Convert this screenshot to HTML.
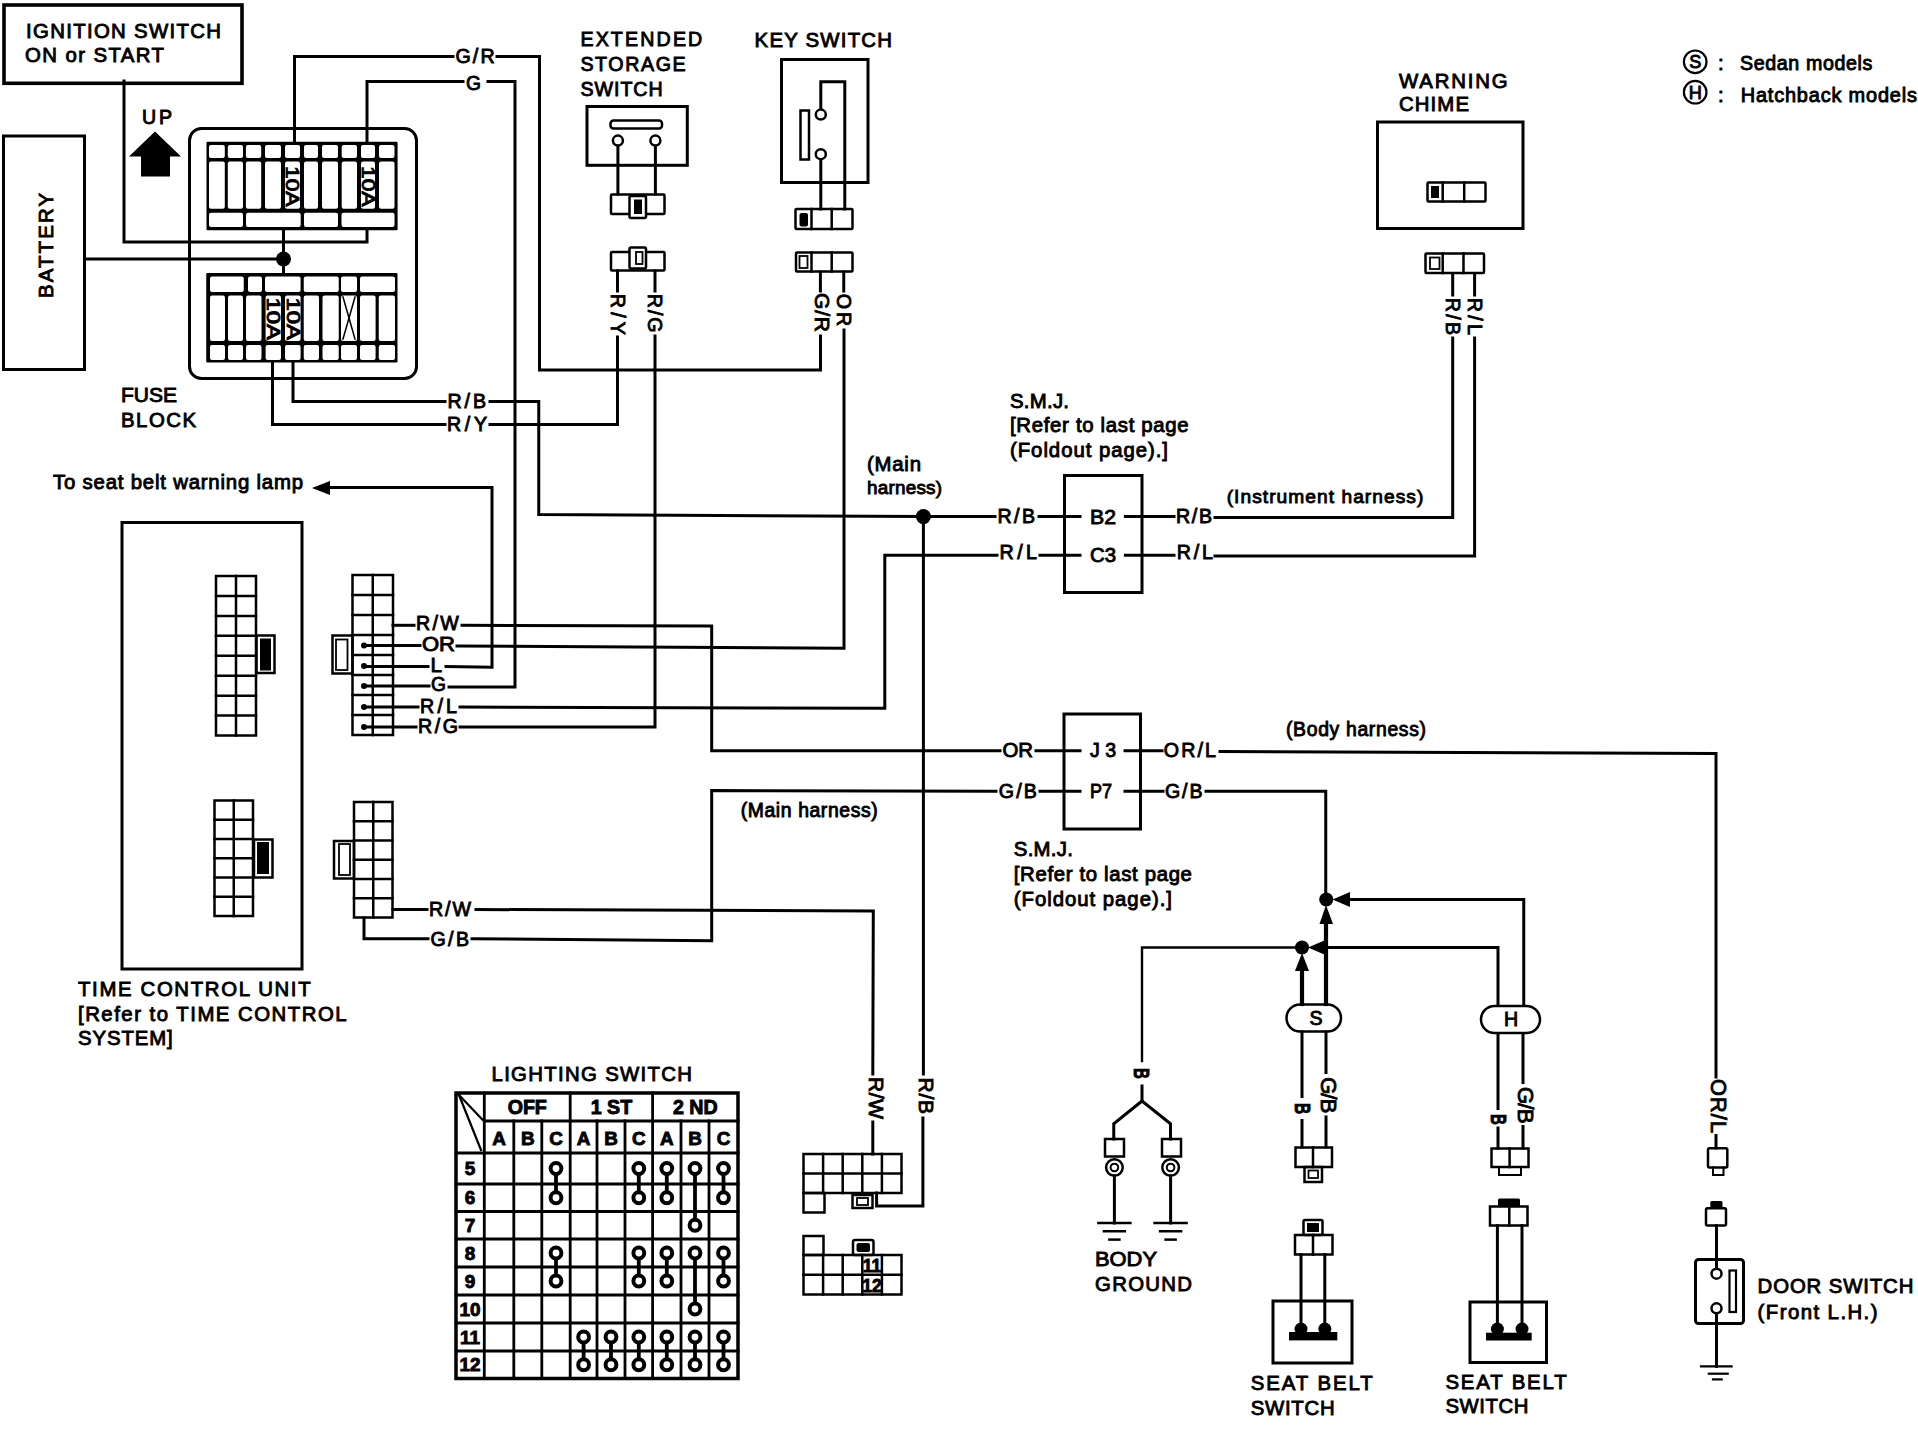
<!DOCTYPE html>
<html><head><meta charset="utf-8"><style>
html,body{margin:0;padding:0;background:#fff;}
svg{display:block;}
text{font-family:"Liberation Sans",sans-serif;fill:#000;}
</style></head><body>
<svg width="1918" height="1440" viewBox="0 0 1918 1440">
<rect x="0" y="0" width="1918" height="1440" fill="#fff"/>
<g fill="none" stroke="#000" stroke-linecap="square">
<rect x="4" y="5" width="238" height="78.3" rx="0" stroke-width="3.6" fill="none"/>
<text transform="translate(26,37.5) scale(1.0,1)" font-size="20.35" font-weight="normal" stroke="#000" stroke-width="0.9" text-anchor="start" textLength="195.0" lengthAdjust="spacing">IGNITION SWITCH</text>
<text transform="translate(25,62) scale(1.0,1)" font-size="20.35" font-weight="normal" stroke="#000" stroke-width="0.9" text-anchor="start" textLength="139.0" lengthAdjust="spacing">ON or START</text>
<rect x="3.5" y="136" width="81.0" height="233.5" rx="0" stroke-width="3" fill="none"/>
<text transform="translate(52.5,298) rotate(-90) scale(1.0,1)" font-size="20.35" font-weight="normal" stroke="#000" stroke-width="0.9" textLength="105.0" lengthAdjust="spacing">BATTERY</text>
<text transform="translate(142,124) scale(1.0,1)" font-size="19.62" font-weight="normal" stroke="#000" stroke-width="0.9" text-anchor="start" textLength="30.0" lengthAdjust="spacing">UP</text>
<polygon points="129,156.5 155,131.5 181,156.5 170,156.5 170,176.5 141,176.5 141,156.5" stroke="none" fill="#000"/>
<polyline points="124,81 124,242 367,242 367,229" stroke-width="3"/>
<line x1="85" y1="259" x2="283.5" y2="259" stroke-width="3"/>
<line x1="283.5" y1="229" x2="283.5" y2="274" stroke-width="3"/>
<circle cx="283.5" cy="259" r="7.5" stroke="none" fill="#000"/>
<rect x="189.5" y="128.5" width="227.0" height="250.0" rx="12" stroke-width="3" fill="none"/>
<rect x="206.5" y="141.8" width="191.10000000000002" height="88.39999999999998" rx="1" stroke="none" fill="#000"/>
<rect x="209" y="145" width="15.800000000000011" height="13" rx="2" stroke="none" fill="#fff"/>
<rect x="227.8" y="145" width="15.199999999999989" height="13" rx="2" stroke="none" fill="#fff"/>
<rect x="245.9" y="145" width="15.299999999999983" height="13" rx="2" stroke="none" fill="#fff"/>
<rect x="265" y="145" width="16" height="13" rx="2" stroke="none" fill="#fff"/>
<rect x="285" y="145" width="15" height="13" rx="2" stroke="none" fill="#fff"/>
<rect x="304" y="145" width="14" height="13" rx="2" stroke="none" fill="#fff"/>
<rect x="322" y="145" width="16" height="13" rx="2" stroke="none" fill="#fff"/>
<rect x="341.7" y="145" width="15.300000000000011" height="13" rx="2" stroke="none" fill="#fff"/>
<rect x="361" y="145" width="14" height="13" rx="2" stroke="none" fill="#fff"/>
<rect x="379" y="145" width="15.5" height="13" rx="2" stroke="none" fill="#fff"/>
<rect x="209" y="161.5" width="15.800000000000011" height="47.30000000000001" rx="2" stroke="none" fill="#fff"/>
<rect x="227.8" y="161.5" width="15.199999999999989" height="47.30000000000001" rx="2" stroke="none" fill="#fff"/>
<rect x="245.9" y="161.5" width="15.299999999999983" height="47.30000000000001" rx="2" stroke="none" fill="#fff"/>
<rect x="265" y="161.5" width="16" height="47.30000000000001" rx="2" stroke="none" fill="#fff"/>
<rect x="285" y="161.5" width="15" height="47.30000000000001" rx="2" stroke="none" fill="#fff"/>
<rect x="304" y="161.5" width="14" height="47.30000000000001" rx="2" stroke="none" fill="#fff"/>
<rect x="322" y="161.5" width="16" height="47.30000000000001" rx="2" stroke="none" fill="#fff"/>
<rect x="341.7" y="161.5" width="15.300000000000011" height="47.30000000000001" rx="2" stroke="none" fill="#fff"/>
<rect x="361" y="161.5" width="14" height="47.30000000000001" rx="2" stroke="none" fill="#fff"/>
<rect x="379" y="161.5" width="15.5" height="47.30000000000001" rx="2" stroke="none" fill="#fff"/>
<rect x="209" y="212.7" width="34" height="14.300000000000011" rx="2" stroke="none" fill="#fff"/>
<rect x="246" y="212.7" width="54.69999999999999" height="14.300000000000011" rx="2" stroke="none" fill="#fff"/>
<rect x="304" y="212.7" width="34" height="14.300000000000011" rx="2" stroke="none" fill="#fff"/>
<rect x="341.5" y="212.7" width="53.0" height="14.300000000000011" rx="2" stroke="none" fill="#fff"/>
<rect x="206.25" y="273" width="191.25" height="89.5" rx="1" stroke="none" fill="#000"/>
<rect x="210" y="276.5" width="33.75" height="15.5" rx="2" stroke="none" fill="#fff"/>
<rect x="248" y="276.5" width="14" height="15.5" rx="2" stroke="none" fill="#fff"/>
<rect x="265" y="276.5" width="35.60000000000002" height="15.5" rx="2" stroke="none" fill="#fff"/>
<rect x="303.75" y="276.5" width="35.0" height="15.5" rx="2" stroke="none" fill="#fff"/>
<rect x="341" y="276.5" width="16" height="15.5" rx="2" stroke="none" fill="#fff"/>
<rect x="360" y="276.5" width="35" height="15.5" rx="2" stroke="none" fill="#fff"/>
<rect x="210" y="295.6" width="15" height="45.39999999999998" rx="2" stroke="none" fill="#fff"/>
<rect x="228" y="295.6" width="15" height="45.39999999999998" rx="2" stroke="none" fill="#fff"/>
<rect x="246" y="295.6" width="15.5" height="45.39999999999998" rx="2" stroke="none" fill="#fff"/>
<rect x="265.6" y="295.6" width="15.399999999999977" height="45.39999999999998" rx="2" stroke="none" fill="#fff"/>
<rect x="285" y="295.6" width="15.600000000000023" height="45.39999999999998" rx="2" stroke="none" fill="#fff"/>
<rect x="303.75" y="295.6" width="15.25" height="45.39999999999998" rx="2" stroke="none" fill="#fff"/>
<rect x="322.5" y="295.6" width="16.25" height="45.39999999999998" rx="2" stroke="none" fill="#fff"/>
<rect x="341" y="295.6" width="16" height="45.39999999999998" rx="2" stroke="none" fill="#fff"/>
<rect x="360" y="295.6" width="15.600000000000023" height="45.39999999999998" rx="2" stroke="none" fill="#fff"/>
<rect x="378.75" y="295.6" width="16.25" height="45.39999999999998" rx="2" stroke="none" fill="#fff"/>
<rect x="210" y="345" width="15" height="15" rx="2" stroke="none" fill="#fff"/>
<rect x="228" y="345" width="15" height="15" rx="2" stroke="none" fill="#fff"/>
<rect x="246" y="345" width="15.5" height="15" rx="2" stroke="none" fill="#fff"/>
<rect x="265.6" y="345" width="15.399999999999977" height="15" rx="2" stroke="none" fill="#fff"/>
<rect x="285" y="345" width="15.600000000000023" height="15" rx="2" stroke="none" fill="#fff"/>
<rect x="303.75" y="345" width="15.25" height="15" rx="2" stroke="none" fill="#fff"/>
<rect x="322.5" y="345" width="16.25" height="15" rx="2" stroke="none" fill="#fff"/>
<rect x="341" y="345" width="16" height="15" rx="2" stroke="none" fill="#fff"/>
<rect x="360" y="345" width="15.600000000000023" height="15" rx="2" stroke="none" fill="#fff"/>
<rect x="378.75" y="345" width="16.25" height="15" rx="2" stroke="none" fill="#fff"/>
<line x1="343" y1="297" x2="355" y2="339" stroke-width="1.5"/>
<line x1="355" y1="297" x2="343" y2="339" stroke-width="1.5"/>
<text transform="translate(286.25,166) rotate(90) scale(1.0,1)" font-size="18.17" font-weight="normal" stroke="#000" stroke-width="0.9" textLength="40.5" lengthAdjust="spacingAndGlyphs">10A</text>
<text transform="translate(361.75,166) rotate(90) scale(1.0,1)" font-size="18.17" font-weight="normal" stroke="#000" stroke-width="0.9" textLength="40.5" lengthAdjust="spacingAndGlyphs">10A</text>
<text transform="translate(267.05,297.5) rotate(90) scale(1.0,1)" font-size="18.17" font-weight="normal" stroke="#000" stroke-width="0.9" textLength="42.5" lengthAdjust="spacingAndGlyphs">10A</text>
<text transform="translate(286.55,297.5) rotate(90) scale(1.0,1)" font-size="18.17" font-weight="normal" stroke="#000" stroke-width="0.9" textLength="42.5" lengthAdjust="spacingAndGlyphs">10A</text>
<text transform="translate(121,402) scale(1.0,1)" font-size="20.35" font-weight="normal" stroke="#000" stroke-width="0.9" text-anchor="start" textLength="56.0" lengthAdjust="spacingAndGlyphs">FUSE</text>
<text transform="translate(121,427) scale(1.0,1)" font-size="20.35" font-weight="normal" stroke="#000" stroke-width="0.9" text-anchor="start" textLength="75.0" lengthAdjust="spacing">BLOCK</text>
<polyline points="294.5,142 294.5,56.5 453,56.5" stroke-width="3"/>
<text transform="translate(455.4,62.5) scale(1.0,1)" font-size="19.62" font-weight="normal" stroke="#000" stroke-width="0.9" text-anchor="start" textLength="39.2" lengthAdjust="spacing">G/R</text>
<polyline points="497,56.5 539.5,56.5 539.5,370 820.5,370 820.5,336" stroke-width="3"/>
<polyline points="367,142 367,81.5 463,81.5" stroke-width="3"/>
<text transform="translate(466,89.6) scale(1.0,1)" font-size="19.62" font-weight="normal" stroke="#000" stroke-width="0.9" text-anchor="start" textLength="15.0" lengthAdjust="spacingAndGlyphs">G</text>
<polyline points="488,81.5 515,81.5 515,687 449,687" stroke-width="3"/>
<polyline points="293,362 293,401.5 445,401.5" stroke-width="3"/>
<text transform="translate(447.5,407.5) scale(1.0,1)" font-size="19.62" font-weight="normal" stroke="#000" stroke-width="0.9" text-anchor="start" textLength="38.5" lengthAdjust="spacing">R/B</text>
<polyline points="490,401.5 538.75,401.5 538.75,514.5 923.4,516.6 995,516.6" stroke-width="3"/>
<polyline points="272.5,362 272.5,424.5 445,424.5" stroke-width="3"/>
<text transform="translate(447,430.75) scale(1.0,1)" font-size="19.62" font-weight="normal" stroke="#000" stroke-width="0.9" text-anchor="start" textLength="40.0" lengthAdjust="spacing">R/Y</text>
<polyline points="490,424.5 617.5,424.5 617.5,337" stroke-width="3"/>
<text transform="translate(580.4,46.25) scale(1.0,1)" font-size="19.62" font-weight="normal" stroke="#000" stroke-width="0.9" text-anchor="start" textLength="121.9" lengthAdjust="spacing">EXTENDED</text>
<text transform="translate(580.4,71.25) scale(1.0,1)" font-size="19.62" font-weight="normal" stroke="#000" stroke-width="0.9" text-anchor="start" textLength="105.2" lengthAdjust="spacing">STORAGE</text>
<text transform="translate(580.4,96.25) scale(1.0,1)" font-size="19.62" font-weight="normal" stroke="#000" stroke-width="0.9" text-anchor="start" textLength="82.3" lengthAdjust="spacing">SWITCH</text>
<rect x="587" y="106.5" width="100.29999999999995" height="58.80000000000001" rx="0" stroke-width="3" fill="none"/>
<rect x="610.5" y="120.5" width="51.5" height="8.0" rx="3" stroke-width="2.5" fill="none"/>
<line x1="617.9" y1="146" x2="617.9" y2="194" stroke-width="3"/>
<line x1="655.4" y1="146" x2="655.4" y2="194" stroke-width="3"/>
<circle cx="617.9" cy="140.6" r="5" stroke-width="2.5" fill="#fff"/>
<circle cx="655.4" cy="140.6" r="5" stroke-width="2.5" fill="#fff"/>
<rect x="611" y="194.5" width="53.5" height="19.5" rx="1" stroke-width="2.5" fill="none"/>
<rect x="629.5" y="196" width="16.5" height="22" rx="1.5" stroke-width="2.5" fill="#fff"/>
<rect x="634" y="199.5" width="8" height="14.5" rx="0" stroke="none" fill="#000"/>
<rect x="611" y="252" width="53.5" height="18.5" rx="1" stroke-width="2.5" fill="none"/>
<rect x="629.5" y="247.5" width="16.5" height="21.0" rx="1.5" stroke-width="2.5" fill="#fff"/>
<rect x="636" y="252" width="6.5" height="12" rx="0" stroke-width="1.8" fill="none"/>
<line x1="617.5" y1="271" x2="617.5" y2="291" stroke-width="3"/>
<line x1="655" y1="271" x2="655" y2="291" stroke-width="3"/>
<text transform="translate(610.75,293.75) rotate(90) scale(1.0,1)" font-size="19.62" font-weight="normal" stroke="#000" stroke-width="0.9" textLength="41.2" lengthAdjust="spacing">R/Y</text>
<text transform="translate(648.25,293.75) rotate(90) scale(1.0,1)" font-size="19.62" font-weight="normal" stroke="#000" stroke-width="0.9" textLength="38.8" lengthAdjust="spacing">R/G</text>
<polyline points="655,336 655,727 460,727" stroke-width="3"/>
<text transform="translate(754.6,46.9) scale(1.0,1)" font-size="20.35" font-weight="normal" stroke="#000" stroke-width="0.9" text-anchor="start" textLength="137.4" lengthAdjust="spacing">KEY SWITCH</text>
<rect x="781.5" y="59.5" width="86.5" height="123.0" rx="0" stroke-width="3" fill="none"/>
<rect x="800.5" y="110.5" width="8.5" height="49.0" rx="0" stroke-width="2.5" fill="none"/>
<polyline points="820.8,109.5 820.8,81.7 844.8,81.7 844.8,209" stroke-width="3"/>
<line x1="820.8" y1="159" x2="820.8" y2="209" stroke-width="3"/>
<circle cx="820.8" cy="114.6" r="5" stroke-width="2.5" fill="#fff"/>
<circle cx="820.8" cy="154.2" r="5" stroke-width="2.5" fill="#fff"/>
<rect x="795.5" y="209" width="57.0" height="20" rx="1" stroke-width="2.5" fill="none"/>
<line x1="811.5" y1="209" x2="811.5" y2="229" stroke-width="2.5"/>
<line x1="831.7" y1="209" x2="831.7" y2="229" stroke-width="2.5"/>
<rect x="799.5" y="213" width="8.5" height="13.5" rx="2" stroke="none" fill="#000"/>
<rect x="796" y="252.5" width="56.5" height="19.0" rx="1" stroke-width="2.5" fill="none"/>
<line x1="811.5" y1="252.5" x2="811.5" y2="271.5" stroke-width="2.5"/>
<line x1="831.7" y1="252.5" x2="831.7" y2="271.5" stroke-width="2.5"/>
<rect x="799.5" y="256" width="8.0" height="12" rx="0" stroke-width="1.8" fill="none"/>
<line x1="820.4" y1="272" x2="820.4" y2="291" stroke-width="3"/>
<line x1="843.75" y1="272" x2="843.75" y2="291" stroke-width="3"/>
<text transform="translate(814.75,293) rotate(90) scale(1.0,1)" font-size="21.08" font-weight="normal" stroke="#000" stroke-width="0.9" textLength="39.0" lengthAdjust="spacing">G/R</text>
<text transform="translate(837.0,293.75) rotate(90) scale(1.0,1)" font-size="19.62" font-weight="normal" stroke="#000" stroke-width="0.9" textLength="32.5" lengthAdjust="spacing">OR</text>
<polyline points="844,330 844,648.3 457,646" stroke-width="3"/>
<text transform="translate(1399,88) scale(1.0,1)" font-size="20.35" font-weight="normal" stroke="#000" stroke-width="0.9" text-anchor="start" textLength="108.6" lengthAdjust="spacing">WARNING</text>
<text transform="translate(1399,111.3) scale(1.0,1)" font-size="20.35" font-weight="normal" stroke="#000" stroke-width="0.9" text-anchor="start" textLength="70.0" lengthAdjust="spacing">CHIME</text>
<rect x="1377.5" y="122" width="145.5" height="106.5" rx="0" stroke-width="3" fill="none"/>
<rect x="1427.5" y="182.5" width="58.0" height="19.0" rx="1" stroke-width="2.5" fill="none"/>
<line x1="1442.7" y1="182.5" x2="1442.7" y2="201.5" stroke-width="2.5"/>
<line x1="1464.2" y1="182.5" x2="1464.2" y2="201.5" stroke-width="2.5"/>
<rect x="1431" y="186" width="8" height="12" rx="0" stroke="none" fill="#000"/>
<rect x="1425.5" y="253.5" width="58.5" height="19.5" rx="1" stroke-width="2.5" fill="none"/>
<line x1="1442.7" y1="253.5" x2="1442.7" y2="273" stroke-width="2.5"/>
<line x1="1463.5" y1="253.5" x2="1463.5" y2="273" stroke-width="2.5"/>
<rect x="1430" y="257.5" width="9.5" height="11.5" rx="0" stroke-width="1.8" fill="none"/>
<line x1="1452.7" y1="274" x2="1452.7" y2="295" stroke-width="3"/>
<line x1="1474.6" y1="274" x2="1474.6" y2="295" stroke-width="3"/>
<text transform="translate(1445.95,297.7) rotate(90) scale(1.0,1)" font-size="19.62" font-weight="normal" stroke="#000" stroke-width="0.9" textLength="37.5" lengthAdjust="spacing">R/B</text>
<text transform="translate(1467.85,297.7) rotate(90) scale(1.0,1)" font-size="19.62" font-weight="normal" stroke="#000" stroke-width="0.9" textLength="37.3" lengthAdjust="spacing">R/L</text>
<polyline points="1452.7,338 1452.7,517.5 1215,517.5" stroke-width="3"/>
<polyline points="1474.6,338 1474.6,556 1215,556" stroke-width="3"/>
<text transform="translate(1226.7,502.5) scale(1.0,1)" font-size="19.19" font-weight="normal" stroke="#000" stroke-width="0.9" text-anchor="start" textLength="196.6" lengthAdjust="spacing">(Instrument harness)</text>
<circle cx="1695.2" cy="61.8" r="11.3" stroke-width="2.2" fill="none"/>
<text transform="translate(1695.2,68) scale(1.0,1)" font-size="18.17" font-weight="normal" stroke="#000" stroke-width="0.9" text-anchor="middle">S</text>
<circle cx="1695.2" cy="92.2" r="11.3" stroke-width="2.2" fill="none"/>
<text transform="translate(1695.2,98.5) scale(1.0,1)" font-size="18.17" font-weight="normal" stroke="#000" stroke-width="0.9" text-anchor="middle">H</text>
<text transform="translate(1718,69.9) scale(1.0,1)" font-size="20.35" font-weight="normal" stroke="#000" stroke-width="0.9" text-anchor="start">:</text>
<text transform="translate(1718,102.1) scale(1.0,1)" font-size="20.35" font-weight="normal" stroke="#000" stroke-width="0.9" text-anchor="start">:</text>
<text transform="translate(1740,69.9) scale(1.0,1)" font-size="19.62" font-weight="normal" stroke="#000" stroke-width="0.9" text-anchor="start" textLength="132.3" lengthAdjust="spacing">Sedan models</text>
<text transform="translate(1740.7,102.1) scale(1.0,1)" font-size="19.91" font-weight="normal" stroke="#000" stroke-width="0.9" text-anchor="start" textLength="176.3" lengthAdjust="spacing">Hatchback models</text>
<text transform="translate(1010,408) scale(1.0,1)" font-size="20.35" font-weight="normal" stroke="#000" stroke-width="0.9" text-anchor="start" textLength="59.0" lengthAdjust="spacing">S.M.J.</text>
<text transform="translate(1010,432) scale(1.0,1)" font-size="20.35" font-weight="normal" stroke="#000" stroke-width="0.9" text-anchor="start" textLength="178.7" lengthAdjust="spacing">[Refer to last page</text>
<text transform="translate(1010,457) scale(1.0,1)" font-size="20.35" font-weight="normal" stroke="#000" stroke-width="0.9" text-anchor="start" textLength="158.0" lengthAdjust="spacing">(Foldout page).]</text>
<text transform="translate(867,470.7) scale(1.0,1)" font-size="20.35" font-weight="normal" stroke="#000" stroke-width="0.9" text-anchor="start" textLength="54.0" lengthAdjust="spacing">(Main</text>
<text transform="translate(867,494.3) scale(1.0,1)" font-size="18.9" font-weight="normal" stroke="#000" stroke-width="0.9" text-anchor="start" textLength="75.0" lengthAdjust="spacing">harness)</text>
<rect x="1064.5" y="475.5" width="77.5" height="117.0" rx="0" stroke-width="3" fill="none"/>
<circle cx="923.4" cy="516.6" r="7.5" stroke="none" fill="#000"/>
<text transform="translate(997.5,522.7) scale(1.0,1)" font-size="19.62" font-weight="normal" stroke="#000" stroke-width="0.9" text-anchor="start" textLength="37.5" lengthAdjust="spacing">R/B</text>
<line x1="1039" y1="516.6" x2="1080" y2="516.6" stroke-width="3"/>
<text transform="translate(1090,524.2) scale(1.0,1)" font-size="19.62" font-weight="normal" stroke="#000" stroke-width="0.9" text-anchor="start" textLength="26.0" lengthAdjust="spacingAndGlyphs">B2</text>
<line x1="1125.4" y1="516.6" x2="1174" y2="516.6" stroke-width="3"/>
<text transform="translate(1176,522.7) scale(1.0,1)" font-size="19.62" font-weight="normal" stroke="#000" stroke-width="0.9" text-anchor="start" textLength="36.0" lengthAdjust="spacing">R/B</text>
<text transform="translate(999.5,559) scale(1.0,1)" font-size="19.62" font-weight="normal" stroke="#000" stroke-width="0.9" text-anchor="start" textLength="37.5" lengthAdjust="spacing">R/L</text>
<line x1="1040" y1="555.2" x2="1080" y2="555.2" stroke-width="3"/>
<text transform="translate(1090,562.3) scale(1.0,1)" font-size="19.62" font-weight="normal" stroke="#000" stroke-width="0.9" text-anchor="start" textLength="26.0" lengthAdjust="spacingAndGlyphs">C3</text>
<line x1="1125.4" y1="555.2" x2="1174" y2="555.2" stroke-width="3"/>
<text transform="translate(1176.8,559) scale(1.0,1)" font-size="19.62" font-weight="normal" stroke="#000" stroke-width="0.9" text-anchor="start" textLength="36.2" lengthAdjust="spacing">R/L</text>
<polyline points="460,707 884.8,708.3 884.8,555.2 997,555.2" stroke-width="3"/>
<polyline points="923.4,516.6 923.4,1074" stroke-width="3"/>
<text transform="translate(918.75,1077.5) rotate(90) scale(1.0,1)" font-size="21.08" font-weight="normal" stroke="#000" stroke-width="0.9" textLength="36.5" lengthAdjust="spacing">R/B</text>
<polyline points="922.9,1118 922.9,1206 876.6,1206 876.6,1193" stroke-width="3"/>
<rect x="122" y="522.5" width="180" height="446.5" rx="0" stroke-width="3" fill="none"/>
<rect x="216" y="576" width="40" height="159.5" rx="0" stroke-width="2.5" fill="none"/>
<line x1="236.0" y1="576" x2="236.0" y2="735.5" stroke-width="2.5"/>
<line x1="216" y1="595.9375" x2="256" y2="595.9375" stroke-width="2.5"/>
<line x1="216" y1="615.875" x2="256" y2="615.875" stroke-width="2.5"/>
<line x1="216" y1="635.8125" x2="256" y2="635.8125" stroke-width="2.5"/>
<line x1="216" y1="655.75" x2="256" y2="655.75" stroke-width="2.5"/>
<line x1="216" y1="675.6875" x2="256" y2="675.6875" stroke-width="2.5"/>
<line x1="216" y1="695.625" x2="256" y2="695.625" stroke-width="2.5"/>
<line x1="216" y1="715.5625" x2="256" y2="715.5625" stroke-width="2.5"/>
<rect x="256.5" y="635.5" width="18.0" height="37.5" rx="0" stroke-width="2.5" fill="none"/>
<rect x="260" y="638.5" width="11" height="32.0" rx="0" stroke="none" fill="#000"/>
<rect x="352.5" y="575" width="40.5" height="160" rx="0" stroke-width="2.5" fill="none"/>
<line x1="372.75" y1="575" x2="372.75" y2="735" stroke-width="2.5"/>
<line x1="352.5" y1="595.0" x2="393" y2="595.0" stroke-width="2.5"/>
<line x1="352.5" y1="615.0" x2="393" y2="615.0" stroke-width="2.5"/>
<line x1="352.5" y1="635.0" x2="393" y2="635.0" stroke-width="2.5"/>
<line x1="352.5" y1="655.0" x2="393" y2="655.0" stroke-width="2.5"/>
<line x1="352.5" y1="675.0" x2="393" y2="675.0" stroke-width="2.5"/>
<line x1="352.5" y1="695.0" x2="393" y2="695.0" stroke-width="2.5"/>
<line x1="352.5" y1="715.0" x2="393" y2="715.0" stroke-width="2.5"/>
<rect x="332.5" y="635.5" width="20.0" height="38.0" rx="0" stroke-width="2.5" fill="none"/>
<rect x="336" y="639.5" width="11.5" height="30.5" rx="0" stroke-width="1.8" fill="none"/>
<circle cx="364" cy="645.5" r="3" stroke="none" fill="#000"/>
<circle cx="364" cy="666" r="3" stroke="none" fill="#000"/>
<circle cx="364" cy="686" r="3" stroke="none" fill="#000"/>
<circle cx="364" cy="707" r="3" stroke="none" fill="#000"/>
<circle cx="364" cy="727" r="3" stroke="none" fill="#000"/>
<rect x="214.5" y="800.5" width="38.5" height="115.5" rx="0" stroke-width="2.5" fill="none"/>
<line x1="233.75" y1="800.5" x2="233.75" y2="916" stroke-width="2.5"/>
<line x1="214.5" y1="819.75" x2="253" y2="819.75" stroke-width="2.5"/>
<line x1="214.5" y1="839.0" x2="253" y2="839.0" stroke-width="2.5"/>
<line x1="214.5" y1="858.25" x2="253" y2="858.25" stroke-width="2.5"/>
<line x1="214.5" y1="877.5" x2="253" y2="877.5" stroke-width="2.5"/>
<line x1="214.5" y1="896.75" x2="253" y2="896.75" stroke-width="2.5"/>
<rect x="254" y="839.5" width="18.5" height="38.0" rx="0" stroke-width="2.5" fill="none"/>
<rect x="257" y="842" width="12" height="32" rx="0" stroke="none" fill="#000"/>
<rect x="354" y="802" width="38.5" height="115.5" rx="0" stroke-width="2.5" fill="none"/>
<line x1="373.25" y1="802" x2="373.25" y2="917.5" stroke-width="2.5"/>
<line x1="354" y1="821.25" x2="392.5" y2="821.25" stroke-width="2.5"/>
<line x1="354" y1="840.5" x2="392.5" y2="840.5" stroke-width="2.5"/>
<line x1="354" y1="859.75" x2="392.5" y2="859.75" stroke-width="2.5"/>
<line x1="354" y1="879.0" x2="392.5" y2="879.0" stroke-width="2.5"/>
<line x1="354" y1="898.25" x2="392.5" y2="898.25" stroke-width="2.5"/>
<rect x="334" y="841" width="20" height="37.5" rx="0" stroke-width="2.5" fill="none"/>
<rect x="339" y="844" width="11" height="31" rx="0" stroke-width="1.8" fill="none"/>
<text transform="translate(78,995.8) scale(1.0,1)" font-size="20.35" font-weight="normal" stroke="#000" stroke-width="0.9" text-anchor="start" textLength="232.6" lengthAdjust="spacing">TIME CONTROL UNIT</text>
<text transform="translate(78,1020.5) scale(1.0,1)" font-size="20.35" font-weight="normal" stroke="#000" stroke-width="0.9" text-anchor="start" textLength="268.6" lengthAdjust="spacing">[Refer to TIME CONTROL</text>
<text transform="translate(78,1044.5) scale(1.0,1)" font-size="20.35" font-weight="normal" stroke="#000" stroke-width="0.9" text-anchor="start" textLength="94.7" lengthAdjust="spacing">SYSTEM]</text>
<line x1="393" y1="625.3" x2="414" y2="625.3" stroke-width="3"/>
<text transform="translate(416,630) scale(1.0,1)" font-size="19.62" font-weight="normal" stroke="#000" stroke-width="0.9" text-anchor="start" textLength="42.7" lengthAdjust="spacing">R/W</text>
<polyline points="462,625.3 711.7,626 711.7,750.75 1000,750.75" stroke-width="3"/>
<line x1="364" y1="645.5" x2="420" y2="645.5" stroke-width="3"/>
<text transform="translate(422,650.7) scale(1.0,1)" font-size="19.62" font-weight="normal" stroke="#000" stroke-width="0.9" text-anchor="start" textLength="33.0" lengthAdjust="spacingAndGlyphs">OR</text>
<line x1="364" y1="666.5" x2="428" y2="666.5" stroke-width="3"/>
<text transform="translate(430.5,671.5) scale(1.0,1)" font-size="19.62" font-weight="normal" stroke="#000" stroke-width="0.9" text-anchor="start" textLength="11.5" lengthAdjust="spacingAndGlyphs">L</text>
<polyline points="446,666.5 492,667.3 492,487.5 330,487.5" stroke-width="3"/>
<polygon points="312,488 330,481 330,495" stroke="none" fill="#000"/>
<text transform="translate(53,489) scale(1.0,1)" font-size="20.35" font-weight="normal" stroke="#000" stroke-width="0.9" text-anchor="start" textLength="250.0" lengthAdjust="spacing">To seat belt warning lamp</text>
<line x1="364" y1="686" x2="429" y2="686" stroke-width="3"/>
<text transform="translate(431,691) scale(1.0,1)" font-size="19.62" font-weight="normal" stroke="#000" stroke-width="0.9" text-anchor="start" textLength="15.0" lengthAdjust="spacingAndGlyphs">G</text>
<line x1="364" y1="707" x2="418" y2="707" stroke-width="3"/>
<text transform="translate(420,713) scale(1.0,1)" font-size="19.62" font-weight="normal" stroke="#000" stroke-width="0.9" text-anchor="start" textLength="37.0" lengthAdjust="spacing">R/L</text>
<line x1="364" y1="727" x2="416" y2="727" stroke-width="3"/>
<text transform="translate(418,733) scale(1.0,1)" font-size="19.62" font-weight="normal" stroke="#000" stroke-width="0.9" text-anchor="start" textLength="40.0" lengthAdjust="spacing">R/G</text>
<line x1="393" y1="909.5" x2="427" y2="909.5" stroke-width="3"/>
<text transform="translate(429,915.5) scale(1.0,1)" font-size="19.62" font-weight="normal" stroke="#000" stroke-width="0.9" text-anchor="start" textLength="42.0" lengthAdjust="spacing">R/W</text>
<polyline points="476,909.5 873.3,911 872.8,1074" stroke-width="3"/>
<polyline points="364,918 364,938.7 428,938.7" stroke-width="3"/>
<text transform="translate(430.5,945.5) scale(1.0,1)" font-size="19.62" font-weight="normal" stroke="#000" stroke-width="0.9" text-anchor="start" textLength="38.5" lengthAdjust="spacing">G/B</text>
<polyline points="472,938.7 711.7,940.7 711.7,790.5 996,791.25" stroke-width="3"/>
<text transform="translate(740.7,816.7) scale(1.0,1)" font-size="19.33" font-weight="normal" stroke="#000" stroke-width="0.9" text-anchor="start" textLength="137.0" lengthAdjust="spacing">(Main harness)</text>
<rect x="1064" y="714" width="76.5" height="115" rx="0" stroke-width="3" fill="none"/>
<text transform="translate(1002.5,757) scale(1.0,1)" font-size="19.62" font-weight="normal" stroke="#000" stroke-width="0.9" text-anchor="start" textLength="30.5" lengthAdjust="spacingAndGlyphs">OR</text>
<line x1="1036" y1="750.75" x2="1080" y2="750.75" stroke-width="3"/>
<text transform="translate(1090,757) scale(1.0,1)" font-size="19.62" font-weight="normal" stroke="#000" stroke-width="0.9" text-anchor="start" textLength="26.0" lengthAdjust="spacingAndGlyphs">J 3</text>
<line x1="1125" y1="750.75" x2="1162" y2="750.75" stroke-width="3"/>
<text transform="translate(1163.75,757) scale(1.0,1)" font-size="19.62" font-weight="normal" stroke="#000" stroke-width="0.9" text-anchor="start" textLength="52.2" lengthAdjust="spacing">OR/L</text>
<polyline points="1220,751.5 1716,753.5 1716,1077" stroke-width="3"/>
<text transform="translate(1710.5,1079) rotate(90) scale(1.0,1)" font-size="21.8" font-weight="normal" stroke="#000" stroke-width="0.9" textLength="54.0" lengthAdjust="spacing">OR/L</text>
<line x1="1716" y1="1135.5" x2="1716" y2="1148" stroke-width="3"/>
<text transform="translate(998.75,797.5) scale(1.0,1)" font-size="19.62" font-weight="normal" stroke="#000" stroke-width="0.9" text-anchor="start" textLength="38.2" lengthAdjust="spacing">G/B</text>
<line x1="1040" y1="791.25" x2="1080" y2="791.25" stroke-width="3"/>
<text transform="translate(1090,797.5) scale(1.0,1)" font-size="19.62" font-weight="normal" stroke="#000" stroke-width="0.9" text-anchor="start" textLength="22.0" lengthAdjust="spacingAndGlyphs">P7</text>
<line x1="1125" y1="791.25" x2="1163" y2="791.25" stroke-width="3"/>
<text transform="translate(1165,797.5) scale(1.0,1)" font-size="19.62" font-weight="normal" stroke="#000" stroke-width="0.9" text-anchor="start" textLength="37.5" lengthAdjust="spacing">G/B</text>
<polyline points="1206,791.25 1325.75,791.25 1325.75,899.5" stroke-width="3"/>
<text transform="translate(1286,736) scale(1.0,1)" font-size="19.33" font-weight="normal" stroke="#000" stroke-width="0.9" text-anchor="start" textLength="140.0" lengthAdjust="spacing">(Body harness)</text>
<text transform="translate(1013.75,856) scale(1.0,1)" font-size="20.35" font-weight="normal" stroke="#000" stroke-width="0.9" text-anchor="start" textLength="59.2" lengthAdjust="spacing">S.M.J.</text>
<text transform="translate(1013.75,881) scale(1.0,1)" font-size="20.35" font-weight="normal" stroke="#000" stroke-width="0.9" text-anchor="start" textLength="178.2" lengthAdjust="spacing">[Refer to last page</text>
<text transform="translate(1013.75,905.5) scale(1.0,1)" font-size="20.35" font-weight="normal" stroke="#000" stroke-width="0.9" text-anchor="start" textLength="158.2" lengthAdjust="spacing">(Foldout page).]</text>
<circle cx="1326.25" cy="899.5" r="7" stroke="none" fill="#000"/>
<polygon points="1332.5,899.5 1350,892 1350,907" stroke="none" fill="#000"/>
<polyline points="1350,899.5 1523.75,899.5 1523.75,1005" stroke-width="3"/>
<polygon points="1326,905 1319.5,924 1333,924" stroke="none" fill="#000"/>
<line x1="1326" y1="923" x2="1326" y2="1004" stroke-width="4.2"/>
<circle cx="1302" cy="947.5" r="7" stroke="none" fill="#000"/>
<polygon points="1308,947.5 1325.5,940 1325.5,955" stroke="none" fill="#000"/>
<polyline points="1142,1061 1142,947.5 1302,947.5" stroke-width="2.4"/>
<polyline points="1325,947.5 1498,947.5 1498,1005" stroke-width="3"/>
<polygon points="1302,953 1295,971 1309,971" stroke="none" fill="#000"/>
<line x1="1302" y1="970" x2="1302" y2="1004" stroke-width="4.2"/>
<rect x="1286.5" y="1004.5" width="54.5" height="27.0" rx="13.5" stroke-width="2.5" fill="none"/>
<text transform="translate(1316,1024.5) scale(1.0,1)" font-size="19.62" font-weight="normal" stroke="#000" stroke-width="0.9" text-anchor="middle">S</text>
<rect x="1481" y="1006" width="59" height="27" rx="13.5" stroke-width="2.5" fill="none"/>
<text transform="translate(1511,1026) scale(1.0,1)" font-size="19.62" font-weight="normal" stroke="#000" stroke-width="0.9" text-anchor="middle">H</text>
<text transform="translate(1134.25,1068) rotate(90) scale(1.0,1)" font-size="22.53" font-weight="bold" stroke="#000" stroke-width="0.9" textLength="10.8" lengthAdjust="spacingAndGlyphs">B</text>
<polyline points="1142,1086 1142,1101" stroke-width="3"/>
<polyline points="1113.75,1139 1113.75,1123.75 1142,1101 1170.5,1123.75 1170.5,1139" stroke-width="3"/>
<rect x="1105" y="1139" width="19" height="17.5" rx="0" stroke-width="2.5" fill="none"/>
<rect x="1162" y="1139" width="19" height="17.5" rx="0" stroke-width="2.5" fill="none"/>
<circle cx="1114.4" cy="1167.5" r="8.3" stroke-width="2.5" fill="#fff"/>
<circle cx="1114.4" cy="1167.5" r="3.8" stroke-width="2" fill="#fff"/>
<line x1="1114.4" y1="1176" x2="1114.4" y2="1223" stroke-width="3"/>
<line x1="1098.4" y1="1223" x2="1130.4" y2="1223" stroke-width="2.5"/>
<line x1="1103.9" y1="1231.25" x2="1124.9" y2="1231.25" stroke-width="2.5"/>
<line x1="1109.4" y1="1239.6" x2="1119.4" y2="1239.6" stroke-width="2.5"/>
<circle cx="1170.6" cy="1167.5" r="8.3" stroke-width="2.5" fill="#fff"/>
<circle cx="1170.6" cy="1167.5" r="3.8" stroke-width="2" fill="#fff"/>
<line x1="1170.6" y1="1176" x2="1170.6" y2="1223" stroke-width="3"/>
<line x1="1154.6" y1="1223" x2="1186.6" y2="1223" stroke-width="2.5"/>
<line x1="1160.1" y1="1231.25" x2="1181.1" y2="1231.25" stroke-width="2.5"/>
<line x1="1165.6" y1="1239.6" x2="1175.6" y2="1239.6" stroke-width="2.5"/>
<text transform="translate(1095,1266) scale(1.0,1)" font-size="20.35" font-weight="normal" stroke="#000" stroke-width="0.9" text-anchor="start" textLength="62.0" lengthAdjust="spacingAndGlyphs">BODY</text>
<text transform="translate(1095,1291) scale(1.0,1)" font-size="20.35" font-weight="normal" stroke="#000" stroke-width="0.9" text-anchor="start" textLength="97.0" lengthAdjust="spacing">GROUND</text>
<line x1="1302" y1="1032" x2="1302" y2="1096.5" stroke-width="3"/>
<text transform="translate(1295.25,1103) rotate(90) scale(1.0,1)" font-size="22.53" font-weight="bold" stroke="#000" stroke-width="0.9" textLength="11.2" lengthAdjust="spacingAndGlyphs">B</text>
<line x1="1302" y1="1120.5" x2="1302" y2="1147" stroke-width="3"/>
<line x1="1326" y1="1032" x2="1326" y2="1072.5" stroke-width="3"/>
<text transform="translate(1321.25,1077) rotate(90) scale(1.0,1)" font-size="22.53" font-weight="normal" stroke="#000" stroke-width="0.9" textLength="36.5" lengthAdjust="spacing">G/B</text>
<line x1="1326" y1="1117" x2="1326" y2="1147" stroke-width="3"/>
<rect x="1295.5" y="1147.5" width="36.5" height="19.5" rx="0" stroke-width="2.5" fill="none"/>
<line x1="1313" y1="1147.5" x2="1313" y2="1167" stroke-width="2.5"/>
<rect x="1304.5" y="1167" width="17.5" height="15" rx="0" stroke-width="2.5" fill="none"/>
<rect x="1308.5" y="1170.5" width="9.5" height="7.5" rx="0" stroke-width="1.8" fill="none"/>
<line x1="1498" y1="1034" x2="1498" y2="1108.5" stroke-width="3"/>
<text transform="translate(1490.95,1114) rotate(90) scale(1.0,1)" font-size="22.53" font-weight="bold" stroke="#000" stroke-width="0.9" textLength="10.8" lengthAdjust="spacingAndGlyphs">B</text>
<line x1="1498" y1="1128" x2="1498" y2="1148" stroke-width="3"/>
<line x1="1523" y1="1034" x2="1523" y2="1082.5" stroke-width="3"/>
<text transform="translate(1517.65,1086.8) rotate(90) scale(1.0,1)" font-size="22.53" font-weight="normal" stroke="#000" stroke-width="0.9" textLength="36.9" lengthAdjust="spacing">G/B</text>
<line x1="1523" y1="1126.5" x2="1523" y2="1148" stroke-width="3"/>
<rect x="1491.5" y="1148.5" width="37.0" height="18.5" rx="0" stroke-width="2.5" fill="none"/>
<line x1="1509.6" y1="1148.5" x2="1509.6" y2="1167" stroke-width="2.5"/>
<polyline points="1499,1167 1499,1175 1521,1175 1521,1167" stroke-width="2"/>
<rect x="1303.5" y="1220" width="19.0" height="15" rx="1.5" stroke-width="2.5" fill="none"/>
<rect x="1307" y="1223" width="12" height="9" rx="0" stroke="none" fill="#000"/>
<rect x="1295" y="1235" width="37.5" height="19.5" rx="0" stroke-width="2.5" fill="none"/>
<line x1="1313" y1="1235" x2="1313" y2="1254.5" stroke-width="2.5"/>
<line x1="1301" y1="1254.6" x2="1301" y2="1327.5" stroke-width="3"/>
<line x1="1324.8" y1="1254.6" x2="1324.8" y2="1327.5" stroke-width="3"/>
<rect x="1273" y="1301" width="79" height="62" rx="0" stroke-width="3" fill="none"/>
<circle cx="1301" cy="1329" r="6.5" stroke="none" fill="#000"/>
<circle cx="1324.8" cy="1329" r="6.5" stroke="none" fill="#000"/>
<rect x="1289" y="1332" width="48.299999999999955" height="8.400000000000091" rx="0" stroke="none" fill="#000"/>
<text transform="translate(1250.8,1390) scale(1.0,1)" font-size="20.35" font-weight="normal" stroke="#000" stroke-width="0.9" text-anchor="start" textLength="121.9" lengthAdjust="spacing">SEAT BELT</text>
<text transform="translate(1250.8,1414.6) scale(1.0,1)" font-size="20.35" font-weight="normal" stroke="#000" stroke-width="0.9" text-anchor="start" textLength="83.8" lengthAdjust="spacing">SWITCH</text>
<rect x="1498" y="1198.4" width="22" height="7.7999999999999545" rx="1.5" stroke="none" fill="#000"/>
<rect x="1490" y="1206.5" width="37.5" height="19.0" rx="0" stroke-width="2.5" fill="none"/>
<line x1="1509.3" y1="1206.5" x2="1509.3" y2="1225.5" stroke-width="2.5"/>
<line x1="1497.4" y1="1225.7" x2="1497.4" y2="1327" stroke-width="3"/>
<line x1="1522" y1="1225.7" x2="1522" y2="1327" stroke-width="3"/>
<rect x="1470" y="1302" width="76.5" height="60.5" rx="0" stroke-width="3" fill="none"/>
<circle cx="1497.4" cy="1329" r="6.5" stroke="none" fill="#000"/>
<circle cx="1522" cy="1329" r="6.5" stroke="none" fill="#000"/>
<rect x="1486" y="1332.7" width="45.700000000000045" height="7.7999999999999545" rx="0" stroke="none" fill="#000"/>
<text transform="translate(1445.4,1388.8) scale(1.0,1)" font-size="20.35" font-weight="normal" stroke="#000" stroke-width="0.9" text-anchor="start" textLength="121.3" lengthAdjust="spacing">SEAT BELT</text>
<text transform="translate(1445.4,1412.7) scale(1.0,1)" font-size="20.35" font-weight="normal" stroke="#000" stroke-width="0.9" text-anchor="start" textLength="83.1" lengthAdjust="spacing">SWITCH</text>
<rect x="1708" y="1148.3" width="19.299999999999955" height="19.200000000000045" rx="1.5" stroke-width="2.5" fill="none"/>
<polyline points="1713,1167.5 1713,1175 1723.5,1175 1723.5,1167.5" stroke-width="2"/>
<rect x="1710.3" y="1201" width="12.200000000000045" height="7" rx="1.5" stroke="none" fill="#000"/>
<rect x="1706" y="1208.3" width="20" height="17.200000000000045" rx="1.5" stroke-width="2.5" fill="none"/>
<line x1="1716.5" y1="1225.7" x2="1716.5" y2="1268" stroke-width="3"/>
<rect x="1695.5" y="1259.5" width="48.0" height="64.0" rx="3" stroke-width="3" fill="none"/>
<circle cx="1716.5" cy="1273.7" r="5" stroke-width="2.5" fill="#fff"/>
<circle cx="1716.5" cy="1308.3" r="5" stroke-width="2.5" fill="#fff"/>
<rect x="1729.5" y="1270.5" width="6.5" height="41.5" rx="0" stroke-width="2.2" fill="none"/>
<line x1="1716.5" y1="1313.5" x2="1716.5" y2="1366.4" stroke-width="3"/>
<line x1="1701" y1="1366.4" x2="1731.6" y2="1366.4" stroke-width="2.2"/>
<line x1="1708.8" y1="1373.7" x2="1727.7" y2="1373.7" stroke-width="2.2"/>
<line x1="1713" y1="1379.4" x2="1721.7" y2="1379.4" stroke-width="2.2"/>
<text transform="translate(1757.6,1292.7) scale(1.0,1)" font-size="20.35" font-weight="normal" stroke="#000" stroke-width="0.9" text-anchor="start" textLength="155.8" lengthAdjust="spacing">DOOR SWITCH</text>
<text transform="translate(1757.6,1318.6) scale(1.0,1)" font-size="20.35" font-weight="normal" stroke="#000" stroke-width="0.9" text-anchor="start" textLength="119.9" lengthAdjust="spacing">(Front L.H.)</text>
<text transform="translate(869.25,1077) rotate(90) scale(1.0,1)" font-size="21.08" font-weight="normal" stroke="#000" stroke-width="0.9" textLength="41.8" lengthAdjust="spacing">R/W</text>
<line x1="872.8" y1="1122" x2="872.8" y2="1154" stroke-width="3"/>
<rect x="803.5" y="1154" width="98.0" height="39" rx="0" stroke-width="2.5" fill="none"/>
<line x1="823.1" y1="1154" x2="823.1" y2="1193" stroke-width="2.5"/>
<line x1="842.7" y1="1154" x2="842.7" y2="1193" stroke-width="2.5"/>
<line x1="862.3" y1="1154" x2="862.3" y2="1193" stroke-width="2.5"/>
<line x1="881.9" y1="1154" x2="881.9" y2="1193" stroke-width="2.5"/>
<line x1="803.5" y1="1173.5" x2="901.5" y2="1173.5" stroke-width="2.5"/>
<rect x="803.5" y="1193" width="21.0" height="19.5" rx="0" stroke-width="2.5" fill="none"/>
<rect x="852.5" y="1195" width="20.0" height="13" rx="0" stroke-width="2.5" fill="none"/>
<rect x="857" y="1198" width="11" height="7" rx="0" stroke-width="1.8" fill="none"/>
<rect x="803.5" y="1236" width="20.0" height="19" rx="0" stroke-width="2.5" fill="none"/>
<rect x="853" y="1240" width="20.5" height="15" rx="2" stroke-width="2.5" fill="none"/>
<rect x="856.5" y="1243" width="13.5" height="9" rx="2" stroke="none" fill="#000"/>
<rect x="803.5" y="1255" width="98.0" height="39.5" rx="0" stroke-width="2.5" fill="none"/>
<line x1="823.1" y1="1255" x2="823.1" y2="1294.5" stroke-width="2.5"/>
<line x1="842.7" y1="1255" x2="842.7" y2="1294.5" stroke-width="2.5"/>
<line x1="862.3" y1="1255" x2="862.3" y2="1294.5" stroke-width="2.5"/>
<line x1="881.9" y1="1255" x2="881.9" y2="1294.5" stroke-width="2.5"/>
<line x1="803.5" y1="1274.75" x2="901.5" y2="1274.75" stroke-width="2.5"/>
<text transform="translate(872,1272) scale(1.0,1)" font-size="17.44" font-weight="bold" stroke="#000" stroke-width="0.9" text-anchor="middle">11</text>
<text transform="translate(872,1292) scale(1.0,1)" font-size="17.44" font-weight="bold" stroke="#000" stroke-width="0.9" text-anchor="middle">12</text>
<text transform="translate(491.5,1080.7) scale(1.0,1)" font-size="20.35" font-weight="normal" stroke="#000" stroke-width="0.9" text-anchor="start" textLength="200.5" lengthAdjust="spacing">LIGHTING SWITCH</text>
<rect x="456" y="1093" width="282" height="285.5" rx="0" stroke-width="3.5" fill="none"/>
<line x1="484.3" y1="1093" x2="484.3" y2="1378.5" stroke-width="2.8"/>
<line x1="513.8" y1="1121" x2="513.8" y2="1378.5" stroke-width="2.8"/>
<line x1="541.8" y1="1121" x2="541.8" y2="1378.5" stroke-width="2.8"/>
<line x1="570.2" y1="1093" x2="570.2" y2="1378.5" stroke-width="2.8"/>
<line x1="597" y1="1121" x2="597" y2="1378.5" stroke-width="2.8"/>
<line x1="625" y1="1121" x2="625" y2="1378.5" stroke-width="2.8"/>
<line x1="652.6" y1="1093" x2="652.6" y2="1378.5" stroke-width="2.8"/>
<line x1="681" y1="1121" x2="681" y2="1378.5" stroke-width="2.8"/>
<line x1="709" y1="1121" x2="709" y2="1378.5" stroke-width="2.8"/>
<line x1="484.3" y1="1121" x2="738" y2="1121" stroke-width="2.8"/>
<line x1="456" y1="1153" x2="738" y2="1153" stroke-width="2.8"/>
<line x1="456" y1="1184" x2="738" y2="1184" stroke-width="2.8"/>
<line x1="456" y1="1211.5" x2="738" y2="1211.5" stroke-width="2.8"/>
<line x1="456" y1="1239" x2="738" y2="1239" stroke-width="2.8"/>
<line x1="456" y1="1267" x2="738" y2="1267" stroke-width="2.8"/>
<line x1="456" y1="1295" x2="738" y2="1295" stroke-width="2.8"/>
<line x1="456" y1="1323" x2="738" y2="1323" stroke-width="2.8"/>
<line x1="456" y1="1351" x2="738" y2="1351" stroke-width="2.8"/>
<line x1="459" y1="1095" x2="482.5" y2="1119.7" stroke-width="2.2"/>
<line x1="459" y1="1095" x2="481" y2="1150" stroke-width="2.2"/>
<text transform="translate(527.25,1114) scale(1.0,1)" font-size="19.62" font-weight="bold" stroke="#000" stroke-width="0.9" text-anchor="middle">OFF</text>
<text transform="translate(611.4000000000001,1114) scale(1.0,1)" font-size="19.62" font-weight="bold" stroke="#000" stroke-width="0.9" text-anchor="middle">1 ST</text>
<text transform="translate(695.3,1114) scale(1.0,1)" font-size="19.62" font-weight="bold" stroke="#000" stroke-width="0.9" text-anchor="middle">2 ND</text>
<text transform="translate(499.04999999999995,1145) scale(1.0,1)" font-size="18.9" font-weight="bold" stroke="#000" stroke-width="0.9" text-anchor="middle">A</text>
<text transform="translate(527.8,1145) scale(1.0,1)" font-size="18.9" font-weight="bold" stroke="#000" stroke-width="0.9" text-anchor="middle">B</text>
<text transform="translate(556.0,1145) scale(1.0,1)" font-size="18.9" font-weight="bold" stroke="#000" stroke-width="0.9" text-anchor="middle">C</text>
<text transform="translate(583.6,1145) scale(1.0,1)" font-size="18.9" font-weight="bold" stroke="#000" stroke-width="0.9" text-anchor="middle">A</text>
<text transform="translate(611.0,1145) scale(1.0,1)" font-size="18.9" font-weight="bold" stroke="#000" stroke-width="0.9" text-anchor="middle">B</text>
<text transform="translate(638.8,1145) scale(1.0,1)" font-size="18.9" font-weight="bold" stroke="#000" stroke-width="0.9" text-anchor="middle">C</text>
<text transform="translate(666.8,1145) scale(1.0,1)" font-size="18.9" font-weight="bold" stroke="#000" stroke-width="0.9" text-anchor="middle">A</text>
<text transform="translate(695.0,1145) scale(1.0,1)" font-size="18.9" font-weight="bold" stroke="#000" stroke-width="0.9" text-anchor="middle">B</text>
<text transform="translate(723.5,1145) scale(1.0,1)" font-size="18.9" font-weight="bold" stroke="#000" stroke-width="0.9" text-anchor="middle">C</text>
<text transform="translate(470,1175.0) scale(1.0,1)" font-size="18.9" font-weight="bold" stroke="#000" stroke-width="0.9" text-anchor="middle">5</text>
<text transform="translate(470,1204.25) scale(1.0,1)" font-size="18.9" font-weight="bold" stroke="#000" stroke-width="0.9" text-anchor="middle">6</text>
<text transform="translate(470,1231.75) scale(1.0,1)" font-size="18.9" font-weight="bold" stroke="#000" stroke-width="0.9" text-anchor="middle">7</text>
<text transform="translate(470,1259.5) scale(1.0,1)" font-size="18.9" font-weight="bold" stroke="#000" stroke-width="0.9" text-anchor="middle">8</text>
<text transform="translate(470,1287.5) scale(1.0,1)" font-size="18.9" font-weight="bold" stroke="#000" stroke-width="0.9" text-anchor="middle">9</text>
<text transform="translate(470,1315.5) scale(1.0,1)" font-size="18.9" font-weight="bold" stroke="#000" stroke-width="0.9" text-anchor="middle">10</text>
<text transform="translate(470,1343.5) scale(1.0,1)" font-size="18.9" font-weight="bold" stroke="#000" stroke-width="0.9" text-anchor="middle">11</text>
<text transform="translate(470,1371.25) scale(1.0,1)" font-size="18.9" font-weight="bold" stroke="#000" stroke-width="0.9" text-anchor="middle">12</text>
<line x1="556.0" y1="1168.5" x2="556.0" y2="1197.75" stroke-width="3.8"/>
<line x1="556.0" y1="1253.0" x2="556.0" y2="1281.0" stroke-width="3.8"/>
<line x1="638.8" y1="1168.5" x2="638.8" y2="1197.75" stroke-width="3.8"/>
<line x1="638.8" y1="1253.0" x2="638.8" y2="1281.0" stroke-width="3.8"/>
<line x1="666.8" y1="1168.5" x2="666.8" y2="1197.75" stroke-width="3.8"/>
<line x1="666.8" y1="1253.0" x2="666.8" y2="1281.0" stroke-width="3.8"/>
<line x1="695.0" y1="1168.5" x2="695.0" y2="1225.25" stroke-width="3.8"/>
<line x1="695.0" y1="1253.0" x2="695.0" y2="1309.0" stroke-width="3.8"/>
<line x1="723.5" y1="1168.5" x2="723.5" y2="1197.75" stroke-width="3.8"/>
<line x1="723.5" y1="1253.0" x2="723.5" y2="1281.0" stroke-width="3.8"/>
<line x1="583.6" y1="1337.0" x2="583.6" y2="1364.75" stroke-width="3.8"/>
<line x1="611.0" y1="1337.0" x2="611.0" y2="1364.75" stroke-width="3.8"/>
<line x1="638.8" y1="1337.0" x2="638.8" y2="1364.75" stroke-width="3.8"/>
<line x1="666.8" y1="1337.0" x2="666.8" y2="1364.75" stroke-width="3.8"/>
<line x1="695.0" y1="1337.0" x2="695.0" y2="1364.75" stroke-width="3.8"/>
<line x1="723.5" y1="1337.0" x2="723.5" y2="1364.75" stroke-width="3.8"/>
<circle cx="556.0" cy="1168.5" r="5.4" stroke-width="4" fill="#fff"/>
<circle cx="556.0" cy="1197.75" r="5.4" stroke-width="4" fill="#fff"/>
<circle cx="556.0" cy="1253.0" r="5.4" stroke-width="4" fill="#fff"/>
<circle cx="556.0" cy="1281.0" r="5.4" stroke-width="4" fill="#fff"/>
<circle cx="638.8" cy="1168.5" r="5.4" stroke-width="4" fill="#fff"/>
<circle cx="638.8" cy="1197.75" r="5.4" stroke-width="4" fill="#fff"/>
<circle cx="638.8" cy="1253.0" r="5.4" stroke-width="4" fill="#fff"/>
<circle cx="638.8" cy="1281.0" r="5.4" stroke-width="4" fill="#fff"/>
<circle cx="666.8" cy="1168.5" r="5.4" stroke-width="4" fill="#fff"/>
<circle cx="666.8" cy="1197.75" r="5.4" stroke-width="4" fill="#fff"/>
<circle cx="666.8" cy="1253.0" r="5.4" stroke-width="4" fill="#fff"/>
<circle cx="666.8" cy="1281.0" r="5.4" stroke-width="4" fill="#fff"/>
<circle cx="695.0" cy="1168.5" r="5.4" stroke-width="4" fill="#fff"/>
<circle cx="695.0" cy="1225.25" r="5.4" stroke-width="4" fill="#fff"/>
<circle cx="695.0" cy="1253.0" r="5.4" stroke-width="4" fill="#fff"/>
<circle cx="695.0" cy="1309.0" r="5.4" stroke-width="4" fill="#fff"/>
<circle cx="723.5" cy="1168.5" r="5.4" stroke-width="4" fill="#fff"/>
<circle cx="723.5" cy="1197.75" r="5.4" stroke-width="4" fill="#fff"/>
<circle cx="723.5" cy="1253.0" r="5.4" stroke-width="4" fill="#fff"/>
<circle cx="723.5" cy="1281.0" r="5.4" stroke-width="4" fill="#fff"/>
<circle cx="583.6" cy="1337.0" r="5.4" stroke-width="4" fill="#fff"/>
<circle cx="583.6" cy="1364.75" r="5.4" stroke-width="4" fill="#fff"/>
<circle cx="611.0" cy="1337.0" r="5.4" stroke-width="4" fill="#fff"/>
<circle cx="611.0" cy="1364.75" r="5.4" stroke-width="4" fill="#fff"/>
<circle cx="638.8" cy="1337.0" r="5.4" stroke-width="4" fill="#fff"/>
<circle cx="638.8" cy="1364.75" r="5.4" stroke-width="4" fill="#fff"/>
<circle cx="666.8" cy="1337.0" r="5.4" stroke-width="4" fill="#fff"/>
<circle cx="666.8" cy="1364.75" r="5.4" stroke-width="4" fill="#fff"/>
<circle cx="695.0" cy="1337.0" r="5.4" stroke-width="4" fill="#fff"/>
<circle cx="695.0" cy="1364.75" r="5.4" stroke-width="4" fill="#fff"/>
<circle cx="723.5" cy="1337.0" r="5.4" stroke-width="4" fill="#fff"/>
<circle cx="723.5" cy="1364.75" r="5.4" stroke-width="4" fill="#fff"/>
</g>
</svg>
</body></html>
